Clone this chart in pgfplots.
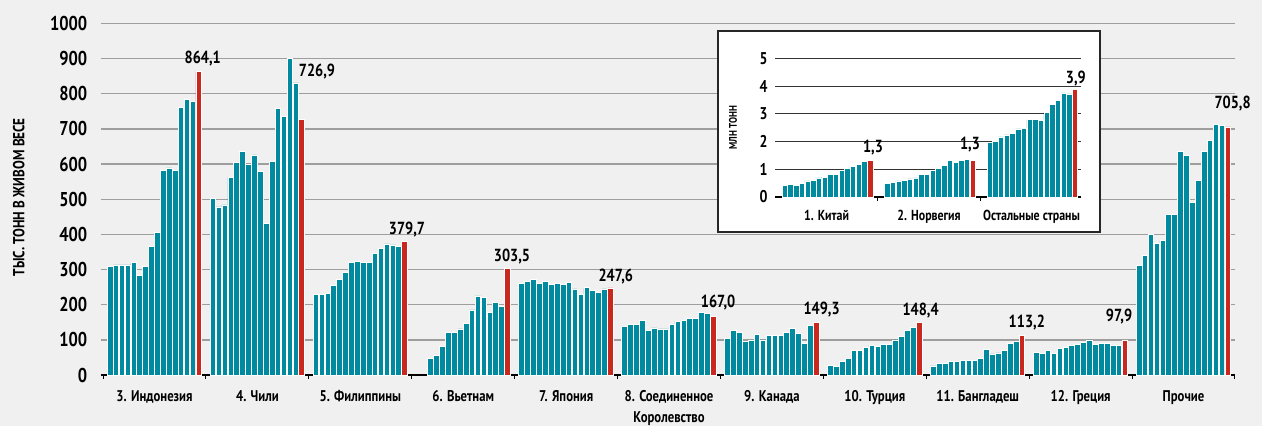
\documentclass[border=0pt]{standalone}
\usepackage{pgfplots}
\pgfplotsset{compat=1.18}
\usepackage{pgfplotstable}
\usepackage{fontspec}
\setmainfont{PT Sans}[FakeStretch=0.82]
\definecolor{tealbar}{RGB}{0,138,160}
\definecolor{redbar}{RGB}{200,40,30}
\definecolor{bgc}{RGB}{240,240,240}

% teal bars, one column per country (15 years), column i = year index
\pgfplotstableread{
ind chi phi vie jap uk can tur ban gre oth i
308 502 229 nan 260 138 103 28 26 64 311 0
313 478 229 nan 266 144 126 25 32 62 339 1
313 484 232 48 273 144 122 38 32 71 399 2
313 563 254 55 260 156 96 46 38 62 375 3
320 604 273 81 266 128 98 70 38 75 382 4
283 635 292 122 257 134 116 70 42 78 458 5
310 600 320 122 260 131 100 78 42 83 458 6
365 626 324 131 257 131 113 85 42 87 637 7
405 578 320 147 263 144 113 82 47 93 625 8
581 431 320 185 245 153 113 88 73 100 492 9
589 607 345 225 229 156 122 88 60 87 553 10
581 758 361 220 248 162 132 100 63 90 637 11
761 736 373 179 241 162 119 110 69 90 668 12
783 900 370 207 236 179 91 126 91 83 713 13
778 831 365 195 245 175 141 136 95 83 711 14
}\tealtab

% last year (red)
\pgfplotstableread{
x y
16.18 864.1
33.58 726.9
50.98 379.7
68.38 303.5
85.78 247.6
103.18 167.0
120.58 149.3
137.98 148.4
155.38 113.2
172.78 97.9
190.18 705.8
}\redtab

\pgfplotstableread{
chn nor oth i
0.42 0.49 1.99 0
0.46 0.53 2.01 1
0.42 0.58 2.17 2
0.49 0.61 2.24 3
0.58 0.65 2.31 4
0.61 0.69 2.46 5
0.69 0.83 2.49 6
0.72 0.83 2.80 7
0.80 0.95 2.80 8
0.80 1.02 2.76 9
0.95 1.13 3.06 10
1.02 1.31 3.35 11
1.10 1.25 3.48 12
1.17 1.31 3.76 13
1.29 1.36 3.72 14
}\insettab

\pgfplotstableread{
x y
16.66 1.31
34.66 1.31
52.66 3.88
}\insetred

\tikzset{vlab/.style={font=\bfseries\fontsize{17.5}{18}\selectfont, anchor=center, inner sep=0pt}}

\begin{document}
\begin{tikzpicture}
\fill[bgc] (0pt,0pt) rectangle (1262pt,426pt);
\begin{axis}[
  at={(101pt,51pt)}, anchor=south west,
  scale only axis, width=1134pt, height=351.5pt,
  xmin=-0.35, xmax=191.4, ymin=0, ymax=1000,
  clip=false,
  axis x line*=bottom, axis y line*=left,
  x axis line style={black, line width=2.2pt},
  y axis line style={draw=none},
  tick align=outside,
  ymajorgrids,
  grid style={color=black!38, line width=1.3pt},
  ytick={0,100,...,1000},
  ytick style={draw=none},
  /pgf/number format/assume math mode=true,
  /pgf/number format/1000 sep={},
  yticklabel style={font=\bfseries\fontsize{20}{22}\selectfont, xshift=-6pt},
  ylabel={ТЫС. ТОНН В ЖИВОМ ВЕСЕ},
  ylabel style={at={(axis description cs:-0.0726,0.506)}, anchor=center, font=\bfseries\fontsize{16}{18}\selectfont},
  xtick={8.7,26.1,43.5,60.9,78.3,95.7,113.1,130.5,147.9,165.3,182.7},
  xticklabels={3. Индонезия, 4. Чили, 5. Филиппины, 6. Вьетнам, 7. Япония, {8. Соединенное\\Королевство}, 9. Канада, 10. Турция, 11. Бангладеш, 12. Греция, Прочие},
  xticklabel style={align=center, font=\bfseries\fontsize{15.5}{21}\selectfont, yshift=-8pt},
  xtick style={draw=none},
  extra x ticks={0,17.4,34.8,52.2,69.6,87,104.4,121.8,139.2,156.6,174,191.4},
  extra x tick labels={},
  extra x tick style={xtick style={draw=black, line width=1pt}, major tick length=4pt},
]
\pgfplotsinvokeforeach{0,...,10}{
  \addplot[ybar, bar width=0.95, bar shift=0pt, fill=tealbar, draw=white, line width=0.7pt]
    table[x expr=\thisrow{i}+1.18+#1*17.4, y index=#1] \tealtab;
}
\addplot[ybar, bar width=0.95, bar shift=0pt, fill=redbar, draw=white, line width=0.7pt] table[x=x, y=y] \redtab;
\node[vlab] at (axis cs:16.85,899) {864,1};
\node[vlab] at (axis cs:36.17,863) {726,9};
\node[vlab] at (axis cs:51.4,415) {379,7};
\node[vlab] at (axis cs:69.15,336.5) {303,5};
\node[vlab] at (axis cs:86.7,279.7) {247,6};
\node[vlab] at (axis cs:104,205) {167,0};
\node[vlab] at (axis cs:121.5,185) {149,3};
\node[vlab] at (axis cs:138.25,182) {148,4};
\node[vlab] at (axis cs:156.2,148) {113,2};
\node[vlab] at (axis cs:171.8,166) {97,9};
\node[vlab] at (axis cs:191.0,771) {705,8};
\end{axis}

\draw[fill=white, draw=black!85, line width=1.5pt] (718pt,194pt) rectangle (1100pt,395pt);

\begin{axis}[
  at={(775.4pt,229pt)}, anchor=south west,
  scale only axis, width=305.6pt, height=138.5pt,
  xmin=0, xmax=53.7, ymin=0, ymax=5,
  clip=false,
  axis x line*=bottom, axis y line*=left,
  x axis line style={black, line width=2pt},
  y axis line style={draw=none},
  tick align=outside,
  ymajorgrids,
  grid style={color=black!80, line width=1pt},
  ytick={0,1,2,3,4,5},
  ytick style={draw=none},
  /pgf/number format/assume math mode=true,
  yticklabel style={font=\bfseries\fontsize{17}{18}\selectfont},
  ylabel={МЛН ТОНН},
  ylabel style={at={(axis description cs:-0.139,0.5)}, anchor=center, font=\bfseries\fontsize{11}{12}\selectfont},
  xtick={9,27,45},
  xticklabels={1. Китай, 2. Норвегия, Остальные страны},
  xticklabel style={font=\bfseries\fontsize{14.5}{16}\selectfont, yshift=-5pt},
  xtick style={draw=none},
  extra x ticks={18,36},
  extra x tick labels={},
  extra x tick style={xtick style={draw=black, line width=1pt}, major tick length=4pt},
]
\addplot[ybar, bar width=0.95, bar shift=0pt, fill=tealbar, draw=white, line width=0.7pt]
  table[x expr=\thisrow{i}+1.66, y=chn] \insettab;
\addplot[ybar, bar width=0.95, bar shift=0pt, fill=tealbar, draw=white, line width=0.7pt]
  table[x expr=\thisrow{i}+19.66, y=nor] \insettab;
\addplot[ybar, bar width=0.95, bar shift=0pt, fill=tealbar, draw=white, line width=0.7pt]
  table[x expr=\thisrow{i}+37.66, y=oth] \insettab;
\addplot[ybar, bar width=0.95, bar shift=0pt, fill=redbar, draw=white, line width=0.7pt]
  table[x=x, y=y] \insetred;
\node[vlab] at (axis cs:17.15,1.77) {1,3};
\node[vlab] at (axis cs:34.2,1.88) {1,3};
\node[vlab] at (axis cs:52.8,4.29) {3,9};
\end{axis}
\end{tikzpicture}
\end{document}
